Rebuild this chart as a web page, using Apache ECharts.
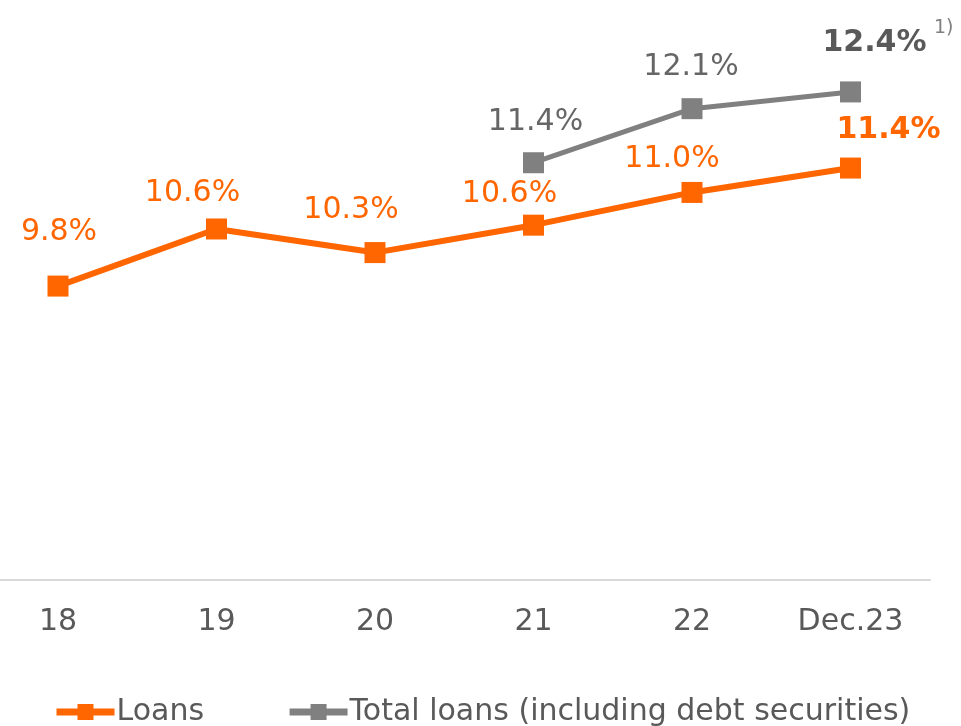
<!DOCTYPE html>
<html>
<head>
<meta charset="utf-8">
<script src="https://cdn.jsdelivr.net/npm/echarts@6/dist/echarts.min.js"></script>
<style>
html,body{margin:0;padding:0;background:#fff;}
#chart{width:961px;height:726px;}
</style>
</head>
<body>
<div id="chart"></div>
<script>
// ---- data ----
const categories = ['18', '19', '20', '21', '22', 'Dec.23'];
const loansValues = [9.86, 10.61, 10.30, 10.66, 11.09, 11.41];
const totalValues = [null, null, null, 11.48, 12.19, 12.41];
const loansLabels = ['9.8%', '10.6%', '10.3%', '10.6%', '11.0%', '11.4%'];
const totalLabels = ['', '', '', '11.4%', '12.1%', '12.4%'];
const seriesNames = ['Loans', 'Total loans (including debt securities)'];
const footnote = '1)';

// ---- label placement (styling) ----
const loansOffsets = [[1, -54], [-24, -36], [-24, -42], [-24, -31], [-20, -33], [38, -38]];
const totalOffsets = [null, null, null, [2, -41], [-1, -41], [24, -49]];
const loansBold = [false, false, false, false, false, true];
const totalBold = [false, false, false, false, false, true];

const ORANGE = '#FF6600';
const GRAY = '#808080';
const FONT = '"DejaVu Sans", Verdana, sans-serif';

function buildData(values, labels, offsets, bold, color, boldColor) {
  return values.map((v, i) => {
    if (v === null) return null;
    return {
      value: v,
      label: {
        show: true,
        position: 'inside',
        offset: offsets[i],
        formatter: labels[i],
        color: bold[i] ? boldColor : color,
        fontWeight: bold[i] ? 'bold' : 'normal',
        fontSize: 30,
        fontFamily: FONT
      }
    };
  });
}

const chart = echarts.init(document.getElementById('chart'), null, {renderer: 'canvas'});
chart.setOption({
  animation: false,
  backgroundColor: '#ffffff',
  grid: [
    {left: 58, right: 110.5, top: 47, bottom: 146, containLabel: false},
    {left: 0, right: 31, top: 47, bottom: 146, containLabel: false}
  ],
  xAxis: [
    {
      type: 'category',
      gridIndex: 0,
      data: categories,
      boundaryGap: false,
      axisLine: {show: false},
      axisTick: {show: false},
      splitLine: {show: false},
      axisLabel: {color: '#595959', fontSize: 30, fontFamily: FONT, margin: 27}
    },
    {
      type: 'category',
      gridIndex: 1,
      data: categories,
      axisLine: {show: true, lineStyle: {color: '#D9D9D9', width: 2}},
      axisTick: {show: false},
      axisLabel: {show: false},
      splitLine: {show: false}
    }
  ],
  yAxis: [
    {type: 'value', gridIndex: 0, min: 6, max: 13, show: false, splitLine: {show: false}},
    {type: 'value', gridIndex: 1, min: 6, max: 13, show: false, splitLine: {show: false}}
  ],
  legend: {
    left: 48,
    top: 692,
    itemWidth: 58,
    itemHeight: 20,
    itemGap: 82,
    lineStyle: {width: 7},
    textStyle: {color: '#595959', fontSize: 30, fontFamily: FONT, padding: [0, 0, 0, -3]},
    data: seriesNames
  },
  series: [
    {
      name: seriesNames[0],
      type: 'line',
      data: buildData(loansValues, loansLabels, loansOffsets, loansBold, ORANGE, ORANGE),
      symbol: 'rect',
      symbolSize: 21,
      lineStyle: {color: ORANGE, width: 6},
      itemStyle: {color: ORANGE},
      z: 3
    },
    {
      name: seriesNames[1],
      type: 'line',
      data: buildData(totalValues, totalLabels, totalOffsets, totalBold, '#666666', '#595959'),
      symbol: 'rect',
      symbolSize: 21,
      lineStyle: {color: GRAY, width: 5},
      itemStyle: {color: GRAY},
      z: 2
    }
  ],
  graphic: [{
    type: 'text',
    left: 934,
    top: 19,
    style: {text: footnote, fill: '#808080', fontSize: 19, fontFamily: FONT}
  }]
});
</script>
</body>
</html>
